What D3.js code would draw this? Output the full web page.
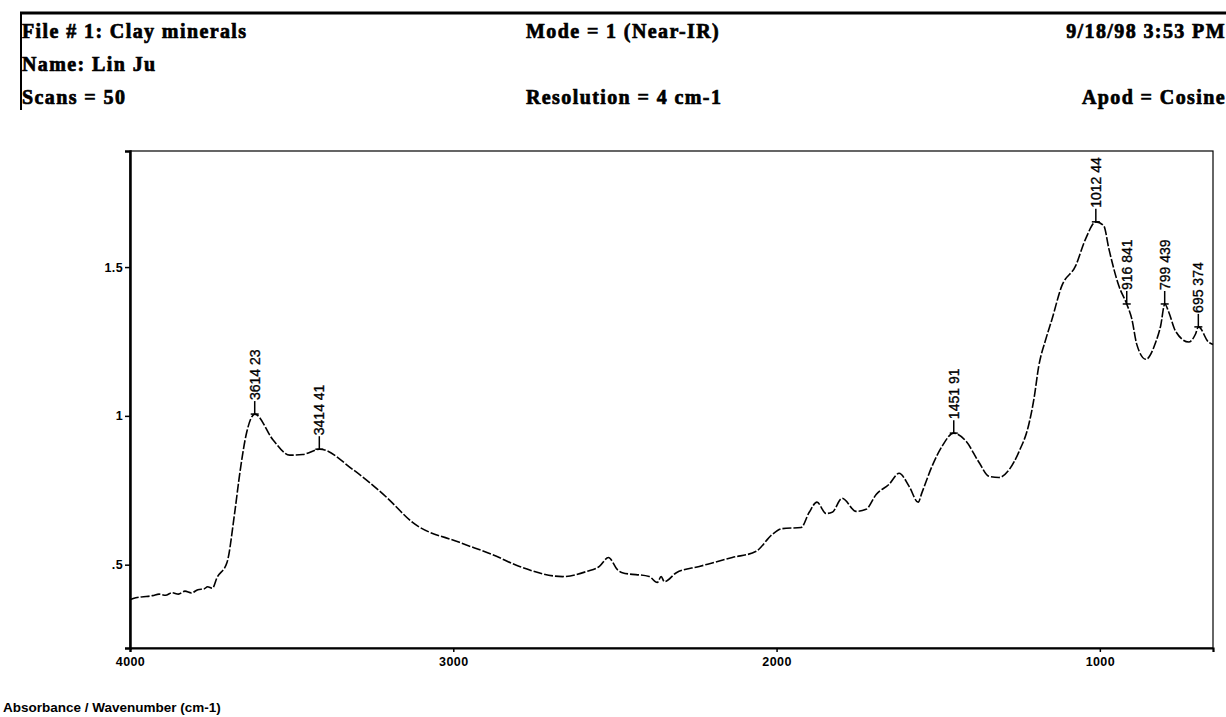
<!DOCTYPE html>
<html>
<head>
<meta charset="utf-8">
<script src="https://cdn.jsdelivr.net/npm/d3@7"></script>
<style>
  html, body { margin: 0; padding: 0; background: #fff; }
  svg { display: block; }
  .hdr { font-family: "Liberation Serif", "Times New Roman", serif; font-weight: bold; font-size: 20px;
         letter-spacing: 1.4px; fill: #000; stroke: #000; stroke-width: 0.7px; }
  .tick text { font-family: "Liberation Sans", Arial, sans-serif; font-weight: bold; font-size: 12.5px; letter-spacing: 0.4px; }
  .peak { font-family: "Liberation Sans Narrow", "Arial Narrow", sans-serif; font-stretch: condensed; font-size: 14px;
          stroke: #000; stroke-width: 0.35px; }
</style>
</head>
<body>
<svg id="chart" width="1226" height="717"></svg>
<script>
// spectrum: wavenumber (cm-1) and absorbance
const wavenumber = [
  4000, 3990, 3970, 3950, 3930, 3910, 3890, 3870, 3850, 3830, 3810, 3790, 3770, 3760, 3745,
  3731, 3700, 3676, 3660, 3639, 3614, 3558, 3506, 3466, 3413, 3311, 3206, 3126, 2981, 2879,
  2795, 2662, 2588, 2548, 2520, 2492, 2477, 2394, 2369, 2357, 2347, 2310, 2239, 2137, 2063,
  2014, 1983, 1924, 1899, 1875, 1847, 1828, 1797, 1754, 1723, 1692, 1652, 1621, 1590, 1562,
  1550, 1519, 1488, 1452, 1414, 1374, 1343, 1312, 1280, 1250, 1220, 1204, 1189, 1167, 1148,
  1118, 1075, 1044, 1012, 988, 972, 941, 917, 901, 886, 858, 827, 812, 799, 787,
  766, 725, 704, 695, 664, 650
];
const absorbance = [
  0.382, 0.386, 0.391, 0.393, 0.396, 0.401, 0.397, 0.406, 0.401, 0.411, 0.405, 0.416, 0.419, 0.426, 0.421,
  0.456, 0.507, 0.676, 0.81, 0.945, 1.006, 0.92, 0.868, 0.87, 0.888, 0.82, 0.726, 0.642, 0.575, 0.534,
  0.494, 0.46, 0.477, 0.494, 0.524, 0.483, 0.473, 0.46, 0.44, 0.46, 0.443, 0.473, 0.494, 0.524, 0.545,
  0.601, 0.621, 0.625, 0.676, 0.71, 0.672, 0.676, 0.723, 0.679, 0.686, 0.736, 0.77, 0.807, 0.763, 0.71,
  0.743, 0.831, 0.898, 0.942, 0.915, 0.844, 0.797, 0.793, 0.82, 0.88, 0.97, 1.056, 1.167, 1.258, 1.325,
  1.436, 1.504, 1.595, 1.652, 1.639, 1.561, 1.436, 1.376, 1.325, 1.241, 1.19, 1.248, 1.302, 1.376, 1.349,
  1.285, 1.248, 1.275, 1.299, 1.248, 1.24
];

// picked peaks
const peakWn = [3614.23, 3414.41, 1451.91, 1012.44, 916.841, 799.439, 695.374];
const peakAbs = [1.006, 0.888, 0.942, 1.652, 1.376, 1.376, 1.299];
const peakText = ["3614 23", "3414 41", "1451 91", "1012 44", "916 841", "799 439", "695 374"];

const xTicks = [4000, 3000, 2000, 1000];
const yTicks = [0.5, 1, 1.5];
const yTickText = [".5", "1", "1.5"];

const headerLeft = ["File # 1: Clay minerals", "Name: Lin Ju", "Scans = 50"];
const headerMid = ["Mode = 1 (Near-IR)", "", "Resolution = 4 cm-1"];
const headerRight = ["9/18/98 3:53 PM", "", "Apod = Cosine"];
const axisCaption = "Absorbance / Wavenumber (cm-1)";

const svg = d3.select("#chart");
const plot = { left: 130, right: 1213, top: 151, bottom: 648 };

// header block
svg.append("line").attr("x1", 20).attr("x2", 1226).attr("y1", 13).attr("y2", 13)
  .attr("stroke", "#000").attr("stroke-width", 3);
svg.append("line").attr("x1", 21).attr("x2", 21).attr("y1", 12).attr("y2", 110)
  .attr("stroke", "#000").attr("stroke-width", 2);
const rowY = [38, 71, 104];
headerLeft.forEach((t, i) => svg.append("text").attr("class", "hdr").attr("x", 22).attr("y", rowY[i]).text(t));
headerMid.forEach((t, i) => svg.append("text").attr("class", "hdr").attr("x", 526).attr("y", rowY[i]).text(t));
headerRight.forEach((t, i) => svg.append("text").attr("class", "hdr").attr("x", 1226).attr("y", rowY[i])
  .attr("text-anchor", "end").text(t));

const x = d3.scaleLinear().domain([4000, 650]).range([plot.left, plot.right]);
const y = d3.scaleLinear().domain([0.22, 1.89]).range([plot.bottom, plot.top]);

// frame
svg.append("rect").attr("x", plot.left).attr("y", plot.top)
  .attr("width", plot.right - plot.left).attr("height", plot.bottom - plot.top)
  .attr("fill", "none").attr("stroke", "#000").attr("stroke-width", 1.2);

const gx = svg.append("g").attr("transform", `translate(0,${plot.bottom})`)
  .call(d3.axisBottom(x).tickValues(xTicks).tickFormat(d3.format("d")).tickSize(4).tickPadding(5));
gx.select(".domain").attr("stroke-width", 2.2);
gx.selectAll(".tick line").attr("stroke-width", 1.5);

const gy = svg.append("g").attr("transform", `translate(${plot.left},0)`)
  .call(d3.axisLeft(y).tickValues(yTicks).tickFormat((d, i) => yTickText[i]).tickSize(5).tickPadding(2));
gy.select(".domain").attr("stroke-width", 2.5);
gy.selectAll(".tick line").attr("stroke-width", 1.5);

// spectrum
const pts = wavenumber.map((w, i) => [w, absorbance[i]]);
svg.append("path").datum(pts)
  .attr("fill", "none").attr("stroke", "#000").attr("stroke-width", 1.6)
  .attr("stroke-dasharray", "9 2")
  .attr("d", d3.line().x(d => x(d[0])).y(d => y(d[1])).curve(d3.curveMonotoneX));

// peak markers
const pk = svg.append("g").selectAll("g").data(peakWn).join("g")
  .attr("transform", (d, i) => `translate(${x(d)},${y(peakAbs[i])})`);
pk.append("line").attr("x1", -4).attr("x2", 4).attr("y1", 0).attr("y2", 0).attr("stroke", "#000").attr("stroke-width", 1.5);
pk.append("line").attr("x1", 0).attr("x2", 0).attr("y1", 0).attr("y2", -13).attr("stroke", "#000").attr("stroke-width", 1.5);
pk.append("text").attr("class", "peak").attr("transform", "translate(5,-14) rotate(-90)")
  .text((d, i) => peakText[i]);

svg.append("text").attr("x", 3).attr("y", 712)
  .attr("font-family", "Liberation Sans, Arial, sans-serif").attr("font-weight", "bold").attr("font-size", 13.5)
  .text(axisCaption);
</script>
</body>
</html>
